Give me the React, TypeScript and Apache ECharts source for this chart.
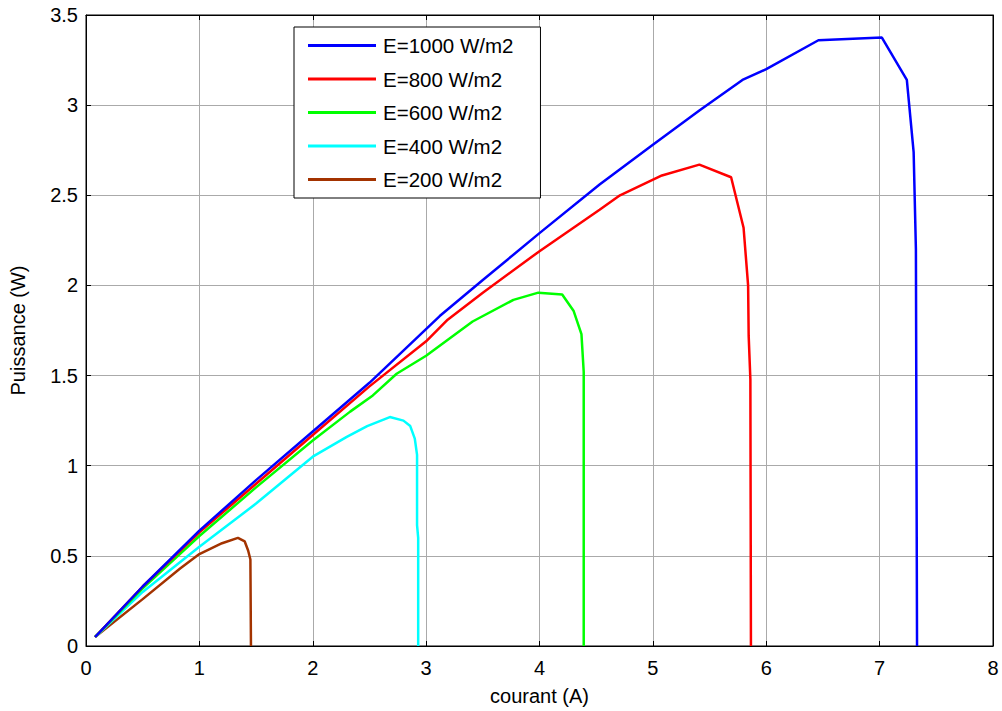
import React, { useEffect, useRef } from "react";
import * as echarts from "echarts";

const seriesNames = ["E=1000 W/m2", "E=800 W/m2", "E=600 W/m2", "E=400 W/m2", "E=200 W/m2"];
const seriesColors = ["#0000ff", "#ff0000", "#00ff00", "#00ffff", "#a33300"];

const e1000: number[][] = [
  [0.08, 0.05], [0.5, 0.33], [1, 0.64], [1.5, 0.92], [2, 1.19], [2.5, 1.46], [3.12, 1.83],
  [3.5, 2.03], [4, 2.29], [4.53, 2.56], [5, 2.78], [5.41, 2.97], [5.79, 3.14], [6.0, 3.2],
  [6.46, 3.36], [7.02, 3.375], [7.24, 3.14], [7.3, 2.74], [7.32, 2.2], [7.33, 0],
];
const e800: number[][] = [
  [0.08, 0.05], [0.5, 0.33], [1, 0.63], [1.5, 0.9], [2, 1.17], [2.5, 1.44], [3, 1.69],
  [3.19, 1.81], [3.5, 1.96], [4, 2.19], [4.53, 2.42], [4.71, 2.5], [5.08, 2.61], [5.41, 2.67],
  [5.69, 2.6], [5.8, 2.32], [5.84, 2.0], [5.845, 1.72], [5.86, 1.48], [5.865, 0],
];
const e600: number[][] = [
  [0.08, 0.05], [0.5, 0.32], [1, 0.61], [1.5, 0.88], [2, 1.14], [2.33, 1.3], [2.53, 1.39],
  [2.74, 1.51], [3, 1.61], [3.41, 1.8], [3.77, 1.92], [3.99, 1.96], [4.2, 1.95], [4.3, 1.86],
  [4.37, 1.73], [4.39, 1.52], [4.39, 1.3], [4.39, 0],
];
const e400: number[][] = [
  [0.08, 0.05], [0.5, 0.3], [1, 0.55], [1.5, 0.79], [2, 1.05], [2.3, 1.16], [2.48, 1.22],
  [2.68, 1.27], [2.8, 1.25], [2.86, 1.22], [2.9, 1.15], [2.92, 1.06], [2.92, 0.67], [2.93, 0.6], [2.93, 0],
];
const e200: number[][] = [
  [0.08, 0.05], [0.5, 0.26], [0.83, 0.43], [1.0, 0.51], [1.2, 0.57], [1.34, 0.6], [1.4, 0.58],
  [1.43, 0.53], [1.45, 0.48], [1.455, 0],
];
const seriesData = [e1000, e800, e600, e400, e200];

const xTitle = "courant (A)";
const yTitle = "Puissance (W)";

export default function App() {
  const ref = useRef<HTMLDivElement>(null);
  useEffect(() => {
    if (!ref.current) return;
    const chart = echarts.init(ref.current, undefined, { renderer: "svg" });
    const font = "Liberation Sans, Arial, sans-serif";
    const gridLine = { show: true, lineStyle: { color: "#aaaaaa", width: 1 } };
    chart.setOption({
      animation: false,
      backgroundColor: "#ffffff",
      textStyle: { fontFamily: font },
      grid: { left: 86, right: 9, top: 15, bottom: 63, show: true, borderColor: "#000", borderWidth: 1, backgroundColor: "#fff" },
      legend: {
        orient: "vertical",
        left: 294,
        top: 27,
        backgroundColor: "#fff",
        borderColor: "#000",
        borderWidth: 1,
        padding: [8, 27, 8, 14],
        itemGap: 12.5,
        itemWidth: 68,
        itemHeight: 3,
        icon: "rect",
        data: seriesNames,
        textStyle: { fontSize: 20.5, color: "#000", fontFamily: font, lineHeight: 20, padding: [0, 0, 0, 2] },
      },
      xAxis: [
        {
          type: "value", min: 0, max: 8, interval: 1,
          name: xTitle, nameLocation: "middle", nameGap: 40,
          nameTextStyle: { fontSize: 20, color: "#000", fontFamily: font },
          axisLine: { show: true, onZero: false, lineStyle: { color: "#000", width: 1 } },
          axisTick: { show: true, inside: true, length: 5, lineStyle: { color: "#000" } },
          axisLabel: { fontSize: 20, color: "#000", margin: 12, fontFamily: font },
          splitLine: gridLine,
        },
        {
          type: "value", min: 0, max: 8, interval: 1, position: "top",
          axisLine: { show: true, onZero: false, lineStyle: { color: "#000", width: 1 } },
          axisTick: { show: true, inside: true, length: 5, lineStyle: { color: "#000" } },
          axisLabel: { show: false },
          splitLine: { show: false },
        },
      ],
      yAxis: [
        {
          type: "value", min: 0, max: 3.5, interval: 0.5,
          name: yTitle, nameLocation: "middle", nameGap: 58, nameRotate: 90,
          nameTextStyle: { fontSize: 20, color: "#000", fontFamily: font },
          axisLine: { show: true, onZero: false, lineStyle: { color: "#000", width: 1 } },
          axisTick: { show: true, inside: true, length: 5, lineStyle: { color: "#000" } },
          axisLabel: { fontSize: 20, color: "#000", margin: 8, fontFamily: font },
          splitLine: gridLine,
        },
        {
          type: "value", min: 0, max: 3.5, interval: 0.5, position: "right",
          axisLine: { show: true, onZero: false, lineStyle: { color: "#000", width: 1 } },
          axisTick: { show: true, inside: true, length: 5, lineStyle: { color: "#000" } },
          axisLabel: { show: false },
          splitLine: { show: false },
        },
      ],
      series: seriesNames.map((name, i) => ({
        name,
        type: "line",
        data: seriesData[i],
        showSymbol: false,
        symbol: "none",
        color: seriesColors[i],
        lineStyle: { color: seriesColors[i], width: 2.5 },
        z: 10 - i,
      })),
    });
    return () => chart.dispose();
  }, []);
  return (
    <div
      ref={ref}
      style={{ position: "fixed", left: 0, top: 0, width: 1002, height: 711, background: "#fff" }}
    />
  );
}
